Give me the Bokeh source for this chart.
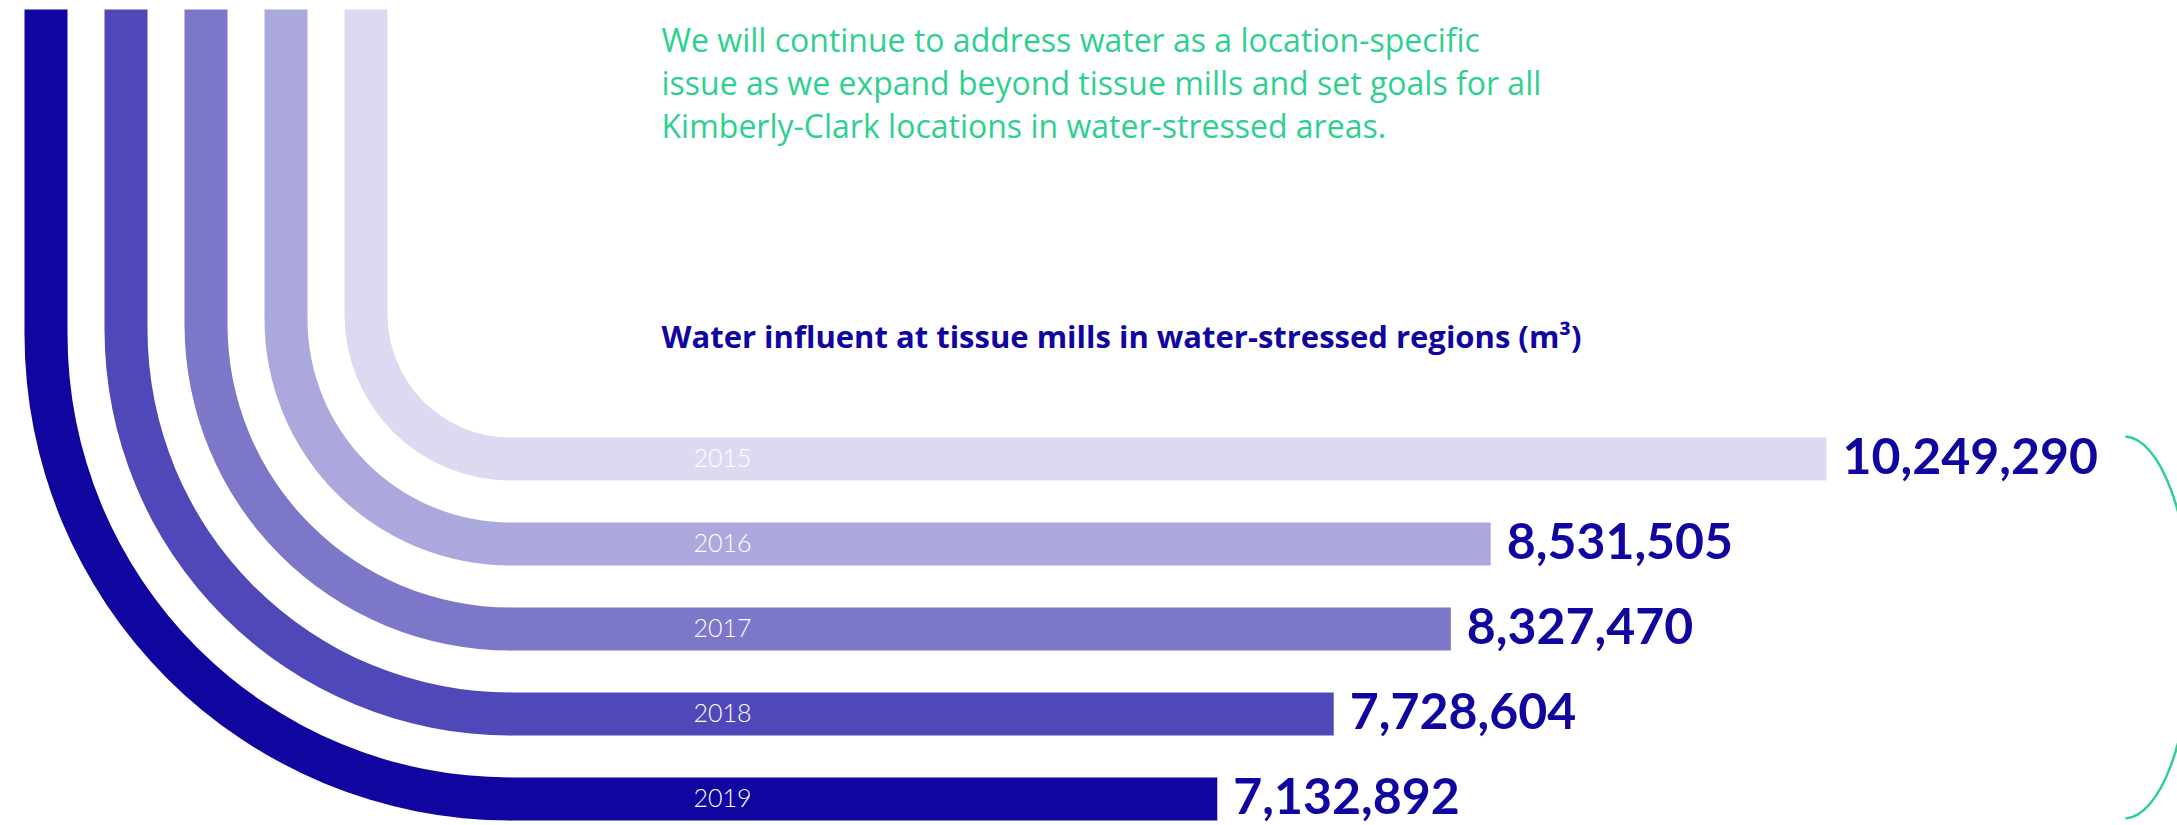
import math
from bokeh.plotting import figure
from bokeh.models import Range1d
from bokeh.core.properties import value
from bokeh.embed import file_html
from bokeh.resources import INLINE

# ---------------- data ----------------
years = ["2015", "2016", "2017", "2018", "2019"]
water_m3 = [10249290, 8531505, 8327470, 7728604, 7132892]
value_labels = ["10,249,290", "8,531,505", "8,327,470", "7,728,604", "7,132,892"]
title = "Water influent at tissue mills in water-stressed regions (m\u00b3)"
intro_lines = [
    "We will continue to address water as a location-specific",
    "issue as we expand beyond tissue mills and set goals for all",
    "Kimberly-Clark locations in water-stressed areas.",
]

# ---------------- style ----------------
bar_colors = ["#DCDAF0", "#ABA8DD", "#7C77C9", "#5047B8", "#10069F"]
NAVY = "#10069F"
GREEN = "#2ED08F"

# ---------------- layout (pixels) ----------------
W, H = 2177, 825
TOP_Y = 9
STRIP_X0 = 344      # left edge of the 2015 strip
STRIP_STEP = 80
THICK = 43
BAR_Y0 = 437        # top of 2015 bar
BAR_STEP = 85
CURVE_END_X = 510   # where the curves turn into straight bars
BASE_FIX = 0.42     # renderer places alphabetic baseline low by ~this * font size

# value scale: pixel = OFFSET + PX_PER_UNIT * value
PX_PER_UNIT = 195.5e-6
OFFSET = -177.7
v_start = (0 - OFFSET) / PX_PER_UNIT
v_end = (W - OFFSET) / PX_PER_UNIT
v_curve_end = (CURVE_END_X - 1 - OFFSET) / PX_PER_UNIT

p = figure(width=W, height=H, x_range=Range1d(0, W), y_range=Range1d(H, 0),
           output_backend="svg", toolbar_location=None, min_border=0,
           x_axis_location=None, y_axis_location=None)
p.extra_x_ranges = {"val": Range1d(v_start, v_end)}
p.grid.visible = False
p.outline_line_color = None
p.background_fill_color = "white"
p.border_fill_color = "white"

n = len(years)
strip_left = [STRIP_X0 - STRIP_STEP * j for j in range(n)]
bar_top = [BAR_Y0 + BAR_STEP * j for j in range(n)]
bar_bottom = [t + THICK for t in bar_top]
bar_center = [t + THICK / 2 for t in bar_top]
outer_r = [CURVE_END_X - l for l in strip_left]
inner_r = [r - THICK for r in outer_r]
center_y = [b - r for b, r in zip(bar_bottom, outer_r)]

# vertical strips
p.quad(left=strip_left, right=[l + THICK for l in strip_left],
       top=[TOP_Y] * n, bottom=[c + 0.6 for c in center_y],
       fill_color=bar_colors, line_color=None)

# quarter curves
p.annular_wedge(x=[CURVE_END_X] * n, y=center_y,
                inner_radius=inner_r, outer_radius=outer_r,
                inner_radius_units="screen", outer_radius_units="screen",
                start_angle=math.pi, end_angle=1.5 * math.pi,
                direction="anticlock",
                fill_color=bar_colors, line_color=None)

# horizontal bars driven by values
p.hbar(y=bar_center, left=[v_curve_end] * n, right=water_m3, height=THICK,
       x_range_name="val", fill_color=bar_colors, line_color=None)

# year labels inside bars
YS = 25
p.text(x=[693] * n, y=[c + 9.5 - BASE_FIX * YS for c in bar_center], text=years,
       text_font=value("Lato Light"), text_font_size=f"{YS}px",
       text_color="white", text_baseline="alphabetic", text_align="left")

# value labels
VS = 50
p.text(x=water_m3, y=[b - 4 - BASE_FIX * VS for b in bar_bottom], text=value_labels,
       x_range_name="val", x_offset=16,
       text_font=value("Lato"), text_font_style="bold", text_font_size=f"{VS}px",
       text_color=NAVY, text_baseline="alphabetic", text_align="left")

# intro paragraph
PS = 32
p.text(x=[661] * len(intro_lines), y=[b - BASE_FIX * PS for b in (52, 95, 138)],
       text=intro_lines,
       text_font=value("Open Sans"), text_font_size=f"{PS}px", text_color=GREEN,
       text_baseline="alphabetic", text_align="left")

# title
TS = 31
p.text(x=[661], y=[349 - BASE_FIX * TS], text=[title],
       text_font=value("Open Sans"), text_font_style="bold", text_font_size=f"{TS}px",
       text_color=NAVY, text_baseline="alphabetic", text_align="left")

# bracket
p.bezier(x0=[2125, 2192], y0=[436, 627], x1=[2192, 2125], y1=[627, 818],
         cx0=[2158, 2190], cy0=[438, 744], cx1=[2190, 2158], cy1=[510, 816],
         line_color=GREEN, line_width=2.5)

open("out.html", "w").write(file_html(p, INLINE))
